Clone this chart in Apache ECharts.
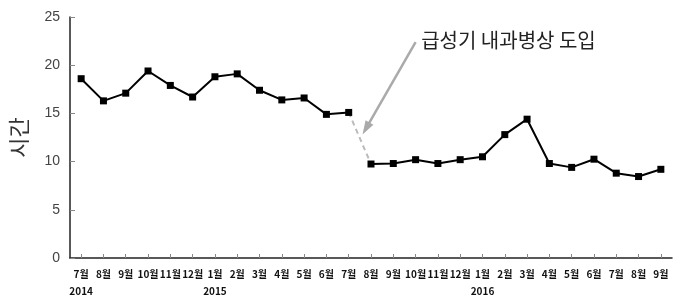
<!DOCTYPE html>
<html><head><meta charset="utf-8">
<script src="https://cdn.jsdelivr.net/npm/echarts@6/dist/echarts.min.js"></script>
<style>html,body{margin:0;padding:0;background:#fff}#c{width:680px;height:304px}</style>
</head><body><div id="c"></div>
<script>
var months = ['7월','8월','9월','10월','11월','12월','1월','2월','3월','4월','5월','6월','7월','8월','9월','10월','11월','12월','1월','2월','3월','4월','5월','6월','7월','8월','9월'];
var years = ['2014','','','','','','2015','','','','','','','','','','','','2016','','','','','','','',''];
var values = [18.6,16.3,17.1,19.4,17.9,16.7,18.8,19.1,17.4,16.4,16.6,14.9,15.1,9.75,9.8,10.2,9.8,10.2,10.5,12.8,14.4,9.8,9.4,10.25,8.8,8.45,9.2];
var breakIndex = 13; // first month after 급성기 내과병상 도입
var yTicks = [0,5,10,15,20,25];
var annotationText = '급성기 내과병상 도입';

var before = values.map(function(v,i){return i < breakIndex ? v : null;});
var after = values.map(function(v,i){return i >= breakIndex ? v : null;});
var bridge = values.map(function(v,i){return (i === breakIndex-1 || i === breakIndex) ? v : null;});

var chart = echarts.init(document.getElementById('c'));
var font = '"Noto Sans CJK KR", "Noto Sans", sans-serif';
chart.setOption({
  animation:false,
  grid:{left:68,right:8,top:17,bottom:46},
  xAxis:{type:'category',data:months,boundaryGap:true,
    axisLine:{lineStyle:{color:'#222',width:1.5}},
    axisTick:{show:true,inside:true,alignWithLabel:true,length:4,lineStyle:{color:'#888'}},
    axisLabel:{interval:0,margin:8,color:'#111',fontSize:10,fontWeight:'bold',fontFamily:font,lineHeight:17,
      formatter:function(v,i){return years[i] ? v+'\n'+years[i] : v;}}},
  yAxis:{type:'value',min:yTicks[0],max:yTicks[yTicks.length-1],interval:5,
    name:'시간',nameLocation:'middle',nameGap:40,nameRotate:90,
    nameTextStyle:{fontSize:22,color:'#333',fontFamily:font},
    axisLine:{show:true,lineStyle:{color:'#222',width:1.5}},
    axisTick:{show:true,inside:true,length:5,lineStyle:{color:'#888'}},
    splitLine:{show:false},
    axisLabel:{color:'#444',fontSize:14,fontFamily:'Liberation Sans, Arial, sans-serif',margin:10}},
  series:[
    {type:'line',data:bridge,symbol:'none',connectNulls:false,
      lineStyle:{color:'#bbb',width:2,type:[5,4]},z:1},
    {type:'line',data:before,symbol:'rect',symbolSize:7,itemStyle:{color:'#000'},lineStyle:{color:'#000',width:2},z:3},
    {type:'line',data:after,symbol:'rect',symbolSize:7,itemStyle:{color:'#000'},lineStyle:{color:'#000',width:2},z:3}
  ]
});
// annotation anchored through the chart's own scales
function px(idx, val){
  var i0 = Math.floor(idx), f = idx - i0;
  var a = chart.convertToPixel({gridIndex:0},[i0,val]);
  var b = chart.convertToPixel({gridIndex:0},[i0+1,val]);
  return [a[0]+(b[0]-a[0])*f, a[1]];
}
var s = px(15.0,22.4), e = px(12.62,12.8);
var dx = e[0]-s[0], dy = e[1]-s[1], L = Math.sqrt(dx*dx+dy*dy), ux = dx/L, uy = dy/L;
var hl = 14, hw = 4.5;
var base = [e[0]-ux*hl, e[1]-uy*hl];
var t = px(15.25,22.55);
chart.setOption({graphic:[
  {type:'line',shape:{x1:s[0],y1:s[1],x2:base[0]+ux*2,y2:base[1]+uy*2},style:{stroke:'#aaa',lineWidth:2.5}},
  {type:'polygon',shape:{points:[[e[0],e[1]],[base[0]-uy*hw,base[1]+ux*hw],[base[0]+uy*hw,base[1]-ux*hw]]},style:{fill:'#aaa'}},
  {type:'text',x:t[0],y:t[1],style:{text:annotationText,fill:'#222',font:'20px '+font,verticalAlign:'middle'}}
]});
</script></body></html>
